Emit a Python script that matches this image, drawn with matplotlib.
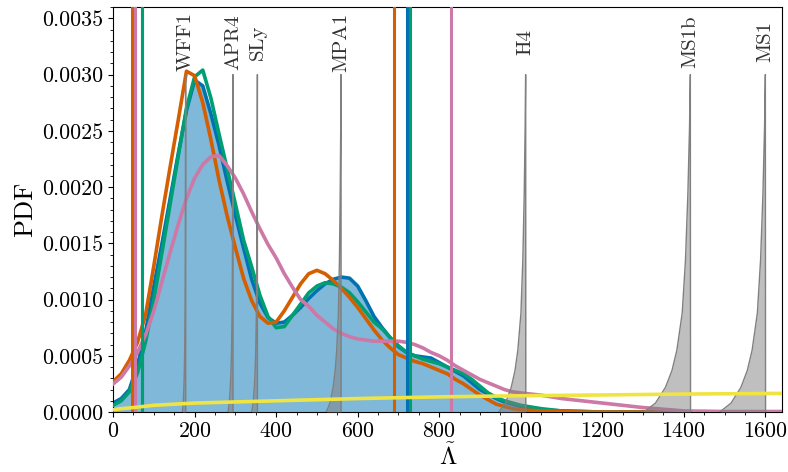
import numpy as np
import matplotlib
matplotlib.use('Agg')
import matplotlib.pyplot as plt
from matplotlib.ticker import MultipleLocator, FormatStrFormatter

plt.rcParams['font.family'] = 'serif'
plt.rcParams['font.serif'] = ['cmr10', 'DejaVu Serif']
plt.rcParams['mathtext.fontset'] = 'cm'
plt.rcParams['axes.formatter.use_mathtext'] = True

# grid of Lambda-tilde values the curves were read at
lam = [0, 20, 40, 60, 80, 100, 120, 140, 160, 180, 200, 220, 240, 260, 280, 300,
       320, 340, 360, 380, 400, 420, 440, 460, 480, 500, 520, 540, 560, 580, 600,
       620, 640, 660, 680, 700, 720, 740, 760, 780, 800, 820, 840, 860, 880, 900,
       920, 940, 960, 980, 1000, 1050, 1100, 1150, 1200, 1300, 1400, 1500, 1642]

pdf_blue = [0.00008, 0.00012, 0.0002, 0.00042, 0.00072, 0.00112, 0.0015, 0.0019, 0.0023, 0.00268,
            0.00295, 0.0029, 0.00265, 0.00237, 0.00205, 0.00175, 0.00146, 0.00118, 0.00097, 0.00084,
            0.00079, 0.0008, 0.00086, 0.00093, 0.00101, 0.00108, 0.00114, 0.00118, 0.0012, 0.00119,
            0.00112, 0.00099, 0.00085, 0.00075, 0.00066, 0.00058, 0.00053, 0.0005, 0.00049, 0.00048,
            0.00044, 0.0004, 0.00036, 0.00032, 0.00026, 0.0002, 0.00016, 0.00012, 0.00009, 0.00007,
            0.00005, 0.00002, 0.00001, 0.000005, 0.0, 0.0, 0.0, 0.0, 0.0]

pdf_green = [0.00006, 0.0001, 0.00018, 0.00035, 0.00063, 0.001, 0.00142, 0.00185, 0.00228, 0.0027,
             0.00298, 0.00304, 0.00279, 0.00247, 0.00216, 0.00185, 0.00153, 0.00129, 0.00104, 0.00085,
             0.00075, 0.00076, 0.00086, 0.00096, 0.00106, 0.00112, 0.00115, 0.00114, 0.00111, 0.00106,
             0.00098, 0.00089, 0.0008, 0.00074, 0.00066, 0.00059, 0.00053, 0.0005, 0.00047, 0.00045,
             0.00043, 0.0004, 0.00037, 0.00034, 0.00029, 0.00023, 0.00017, 0.00013, 0.0001, 0.00008,
             0.00006, 0.00003, 0.00001, 0.000005, 0.0, 0.0, 0.0, 0.0, 0.0]

pdf_orange = [0.00027, 0.00034, 0.00046, 0.00062, 0.00087, 0.0013, 0.00175, 0.00218, 0.0026, 0.00303,
              0.00299, 0.00275, 0.00242, 0.00206, 0.00174, 0.00146, 0.00119, 0.00099, 0.00085, 0.00079,
              0.0008, 0.0009, 0.00102, 0.00114, 0.00123, 0.00126, 0.00123, 0.00117, 0.0011, 0.00102,
              0.00093, 0.00083, 0.00073, 0.00064, 0.00057, 0.00051, 0.00048, 0.00045, 0.00043, 0.0004,
              0.00037, 0.00034, 0.00029, 0.00025, 0.0002, 0.00015, 0.00011, 0.00007, 0.00005, 0.00003,
              0.00002, 0.00001, 0.000005, 0.0, 0.0, 0.0, 0.0, 0.0, 0.0]

pdf_pink = [0.00025, 0.00031, 0.00041, 0.00053, 0.00069, 0.0009, 0.00116, 0.00142, 0.00167, 0.0019,
            0.00208, 0.0022, 0.00227, 0.00228, 0.00219, 0.00208, 0.00194, 0.00178, 0.00163, 0.00149,
            0.00137, 0.00123, 0.00111, 0.001, 0.00094, 0.00086, 0.0008, 0.00074, 0.0007, 0.00067,
            0.00065, 0.00064, 0.00063, 0.00063, 0.00063, 0.00063, 0.00062, 0.0006, 0.00057, 0.00053,
            0.0005, 0.00046, 0.00041, 0.00037, 0.00033, 0.00029, 0.00026, 0.00023, 0.0002, 0.00018,
            0.00017, 0.00015, 0.00012, 0.0001, 0.00008, 0.00004, 0.00001, 0.000005, 0.000005]

# prior (yellow)
lam_prior = [0, 20, 50, 100, 200, 300, 400, 600, 800, 1000, 1200, 1400, 1642]
pdf_prior = [0.00002, 0.00003, 0.00004, 0.00006, 0.00008, 0.00009, 0.0001, 0.00012,
             0.000135, 0.000145, 0.000152, 0.00016, 0.000166]

# 90% bounds
bounds_blue = [70, 720]
bounds_green = [72, 728]
bounds_orange = [47, 690]
bounds_pink = [53, 829]

# EOS predictions
eos_names = ['WFF1', 'APR4', 'SLy', 'MPA1', 'H4', 'MS1b', 'MS1']
eos_peak = [178, 294, 354, 559, 1012, 1416, 1600]
eos_width = [8, 12, 14, 36, 66, 114, 112]
# common shape of an EOS peak: offset in units of width, pdf value
eos_shape_off = [-1.0, -0.75, -0.535, -0.395, -0.29, -0.175, -0.105, -0.053, -0.018, 0.0, 0.004]
eos_shape_pdf = [0.0, 0.00008, 0.00022, 0.00037, 0.00055, 0.00088, 0.00135, 0.00194, 0.00253, 0.003, 0.0]

c_blue = '#0072B2'
c_orange = '#D55E00'
c_green = '#009E73'
c_pink = '#CC79A7'
c_yellow = '#F0E442'

fig, ax = plt.subplots(figsize=(7.88, 4.72), dpi=100)
fig.subplots_adjust(left=0.1435, right=0.993, top=0.985, bottom=0.127)

ax.fill_between(lam, pdf_blue, color=c_blue, alpha=0.5, lw=0, zorder=1)
ax.plot(lam, pdf_blue, color=c_blue, lw=2.6, zorder=2)
ax.plot(lam, pdf_green, color=c_green, lw=2.6, zorder=3)
ax.plot(lam, pdf_orange, color=c_orange, lw=2.6, zorder=4)
ax.plot(lam, pdf_pink, color=c_pink, lw=2.6, zorder=5)

for b, c, z in [(bounds_blue, c_blue, 6), (bounds_green, c_green, 7),
                (bounds_orange, c_orange, 8), (bounds_pink, c_pink, 9)]:
    for v in b:
        ax.axvline(v, color=c, lw=2.2, zorder=z)

shape_off = np.array(eos_shape_off)
for name, pk, w in zip(eos_names, eos_peak, eos_width):
    xs = pk + w * shape_off
    ax.fill_between(xs, eos_shape_pdf, color='gray', alpha=0.5, lw=0, zorder=10)
    ax.plot(xs, eos_shape_pdf, color='gray', lw=1.0, zorder=10)
    ax.text(pk, 0.00329, name, rotation=90, ha='center', va='center',
            fontsize=15, color='#333333')

ax.plot(lam_prior, pdf_prior, color=c_yellow, lw=2.6, zorder=11)

ax.set_xlim(0, 1642)
ax.set_ylim(0, 0.0036)
ax.xaxis.set_major_locator(MultipleLocator(200))
ax.xaxis.set_minor_locator(MultipleLocator(50))
ax.yaxis.set_major_locator(MultipleLocator(0.0005))
ax.yaxis.set_minor_locator(MultipleLocator(0.0001))
ax.yaxis.set_major_formatter(FormatStrFormatter('%.4f'))
ax.tick_params(labelsize=15.8)
ax.set_xlabel(r'$\tilde{\Lambda}$', fontsize=18, labelpad=1)
ax.set_ylabel('PDF', fontsize=19)

plt.savefig('out.png', dpi=100)
